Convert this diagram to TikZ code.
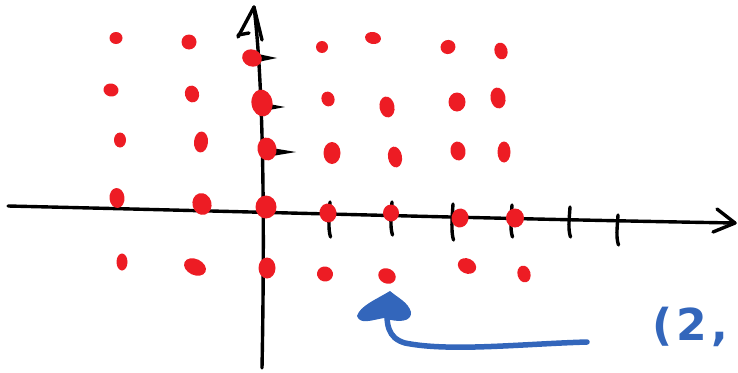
\documentclass[tikz,border=0pt]{standalone}
\usepackage{fontspec}
\newfontfamily\handfont{DejaVu Sans}
\definecolor{dotred}{HTML}{ED1C24}
\definecolor{penblue}{HTML}{3366BB}
\tikzset{
  axisline/.style={line width=3.4pt, line cap=round, line join=round, black},
  tickmark/.style={line width=3.4pt, line cap=round, black},
  reddot/.style={fill=dotred},
  bluepen/.style={line width=5.5pt, line cap=round, line join=round, penblue},
}
\begin{document}
\begin{tikzpicture}[x=1pt,y=-1pt]
\useasboundingbox (0,0) rectangle (738,372);
% horizontal axis
\coordinate (xl) at (8,206);
\coordinate (xr) at (735,223);
\draw[axisline] (xl) .. controls (263,212) and (500,219) .. (xr);
\draw[axisline] (717,209) -- (xr) -- (713,232);
% vertical axis
\coordinate (yb) at (262,368);
\coordinate (yt) at (254,7);
\draw[axisline] (yb) .. controls (265,212) and (263,80) .. (yt);
\draw[axisline] (238,37) -- (yt) -- (262,40);
\draw[axisline] (238,35) -- (249,33);
% y ticks (wedges)
\fill (258,54) -- (277,58) -- (258,62) -- cycle;
\fill (264,103) -- (285,107) -- (264,111) -- cycle;
\fill (266,147) -- (296,152) -- (266,157) -- cycle;
% x ticks
\foreach \tx/\ta/\tb in {330/202/237, 392/202/235, 453/204/240, 512/205/237, 570/207/237, 618/215/245}{
  \draw[tickmark] (\tx,\ta) .. controls (\tx-1,\ta+15) and (\tx-2,\tb-8) .. (\tx+0.5,\tb);
}
% red dots
\foreach \dx/\dy/\dw/\dh/\dr in {
  116/38/13/12/0, 189/42/15/15/0, 252/58/20/17/-20, 322/47/12/12/0, 373/38/16/12/-10, 448/47/15/14/20, 501/51/13/17/15,
  111/90/15/13/-10, 192/94/14/17/15, 262/103/21/27/10, 328/99/13/15/20, 387/107/15/21/10, 457/102/17/19/0, 498/98/15/21/10,
  120/140/12/15/0, 201/142/14/21/-5, 267/149/19/23/10, 332/153/17/22/0, 395/157/14/21/10, 458/151/15/19/10, 504/152/13/21/0,
  117/198/15/20/5, 202/204/19/22/15, 266/207/21/23/0, 328/213/17/19/10, 391/213/16/17/0, 460/218/17/19/-10, 515/218/18/19/0,
  122/262/11/17/0, 195/267/23/16/-25, 267/268/17/21/0, 325/274/16/15/-10, 387/276/18/15/-25, 467/266/19/15/-25, 524/274/13/17/15}{
  \fill[reddot] (\dx,\dy) ellipse [x radius=\dw/2*1pt, y radius=\dh/2*1pt, rotate=\dr];
}
% blue arrow
\coordinate (as) at (587,342);
\coordinate (ae) at (388,300);
\draw[bluepen] (as) .. controls (520,344) and (450,352) .. (405,343)
   .. controls (388,338) and (385,325) .. (ae);
\fill[penblue] (390,291) .. controls (375,300) and (360,306) .. (357,316)
   .. controls (360,325) and (372,320) .. (384,318)
   .. controls (398,323) and (412,322) .. (411,312)
   .. controls (408,302) and (398,298) .. cycle;
% text
\node[text=penblue, font=\handfont\bfseries\fontsize{44}{44}\selectfont, anchor=base west, inner sep=0pt] (lbl) at (652,340) {(\kern4pt2\kern5pt,};
\end{tikzpicture}
\end{document}
